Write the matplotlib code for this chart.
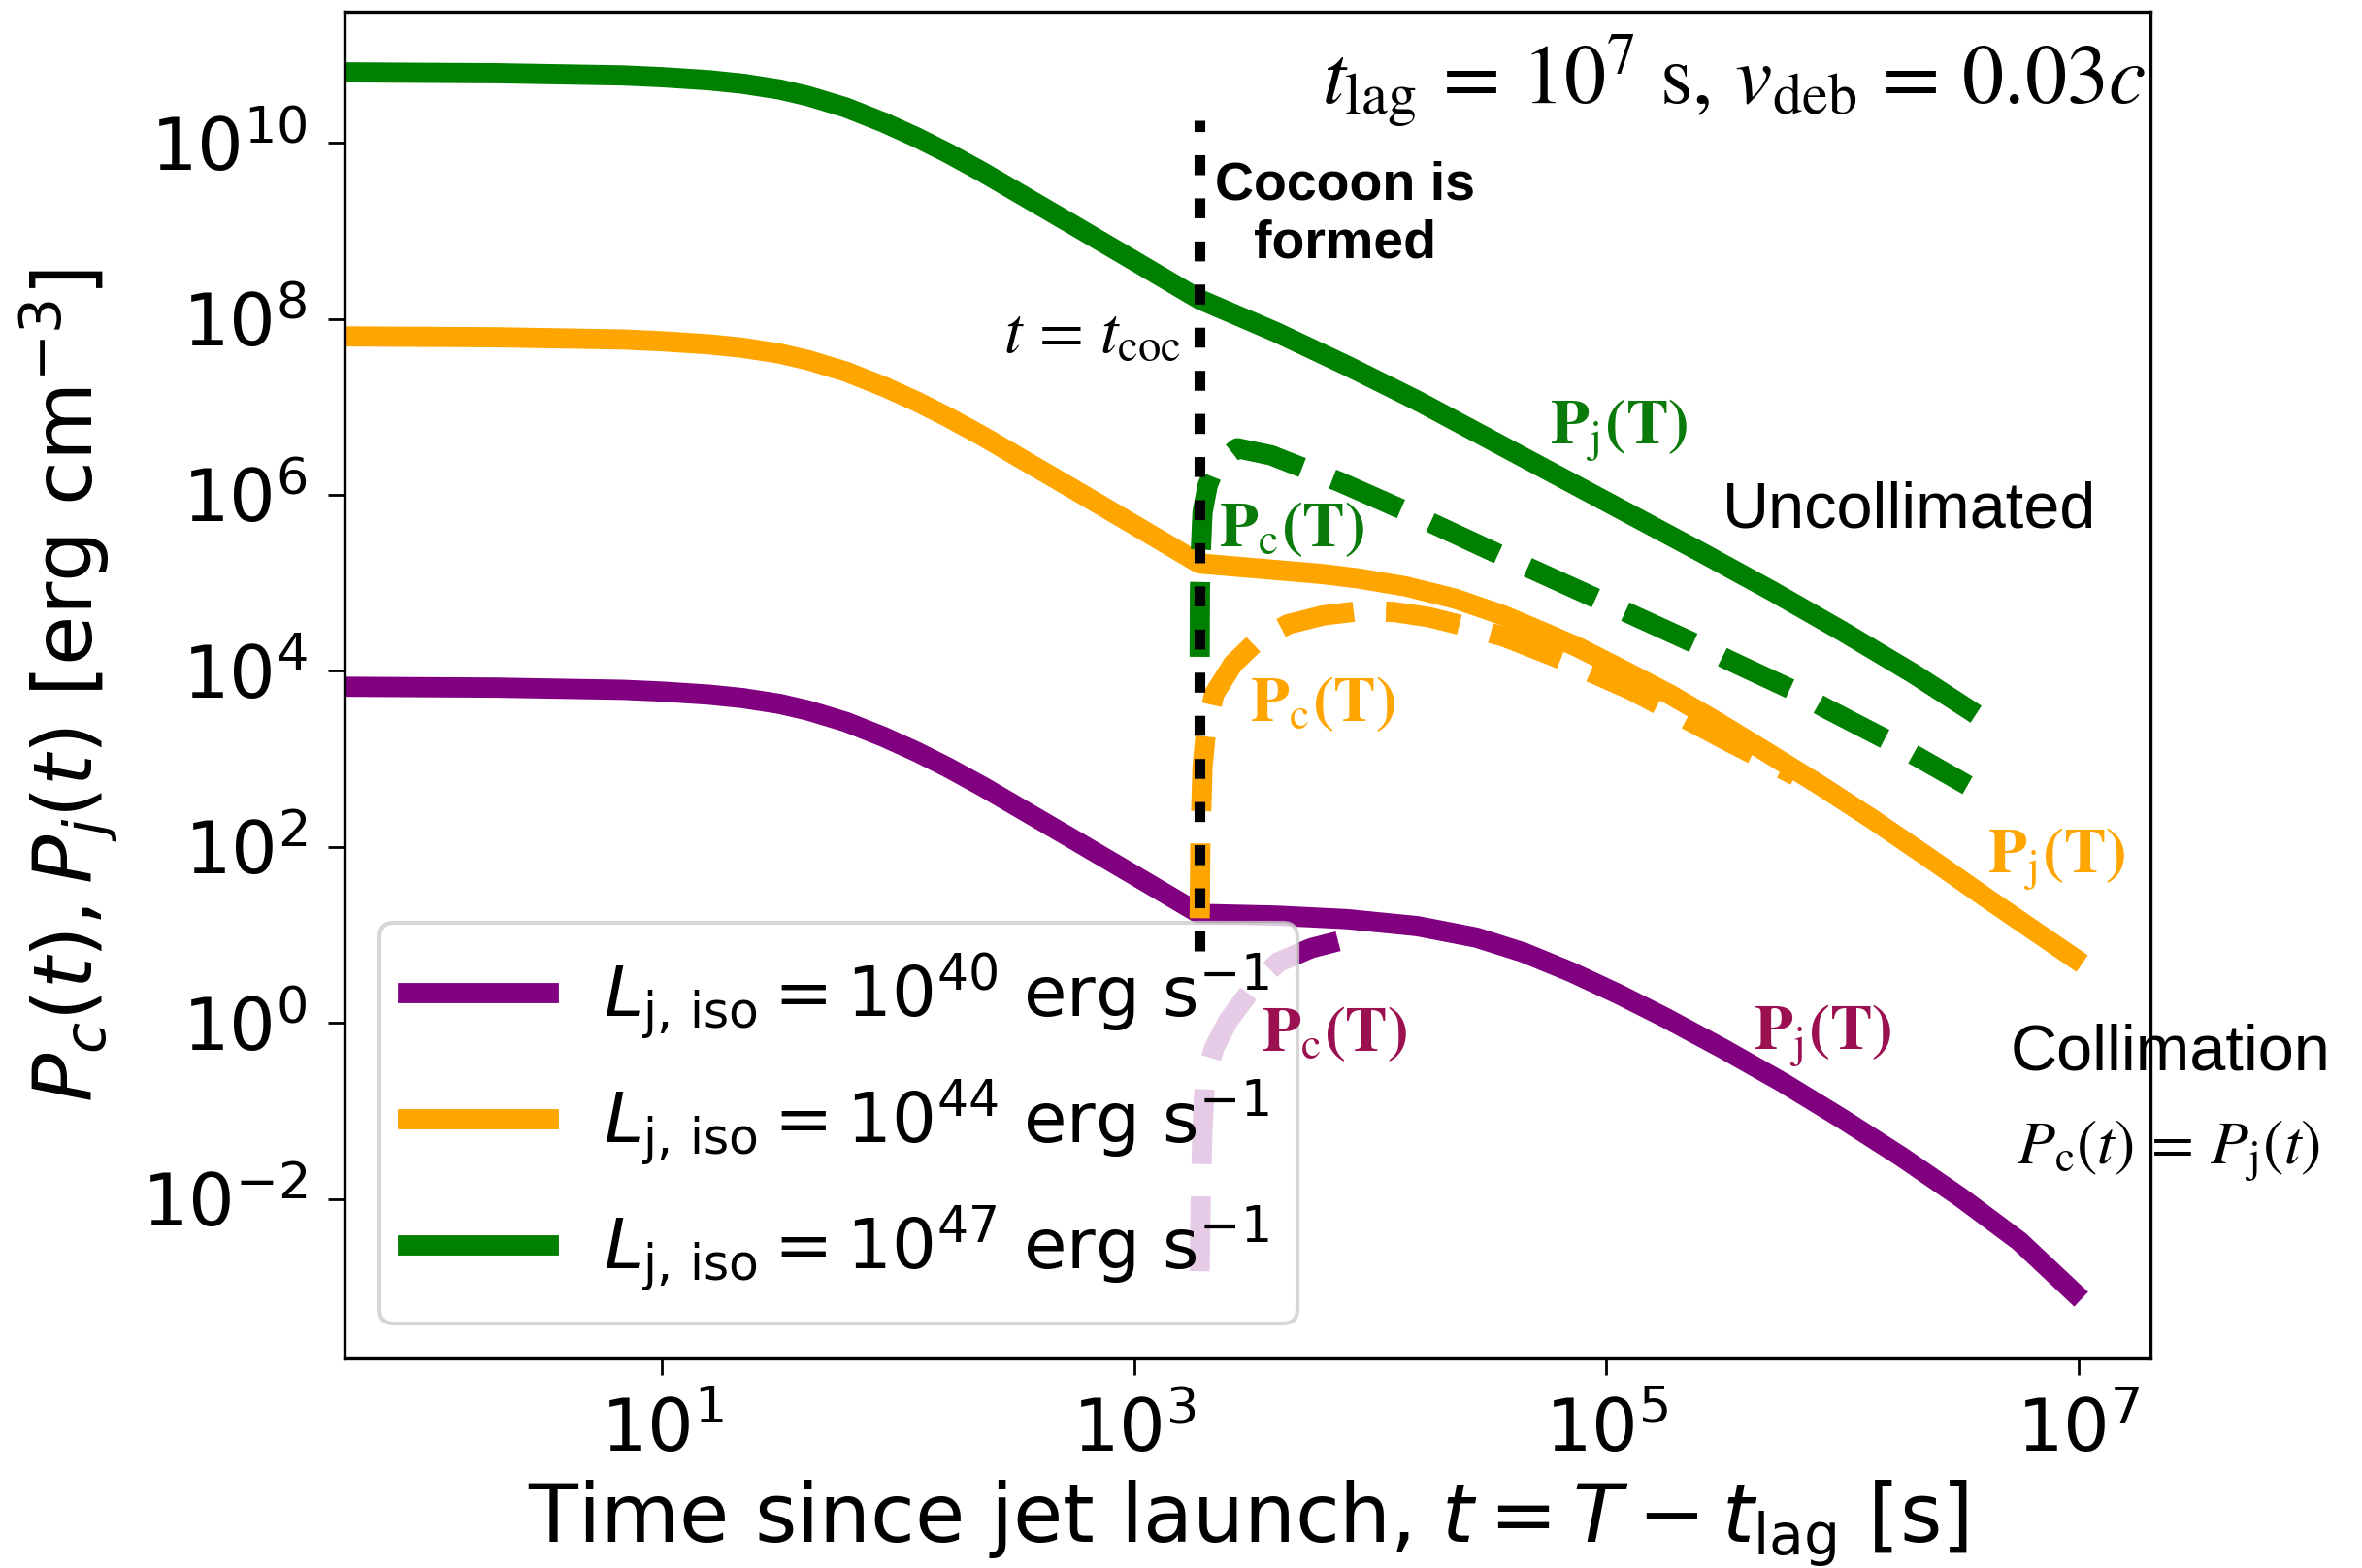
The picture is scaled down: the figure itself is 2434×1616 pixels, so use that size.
import numpy as np
import matplotlib
matplotlib.use("Agg")
import matplotlib.pyplot as plt
from matplotlib.ticker import FixedLocator, NullLocator

# ---------------------------------------------------------------------------
# Data (log10 of time since launch [s] and log10 of pressure [erg cm^-3])
# ---------------------------------------------------------------------------
log_t_coc = 3.278

# jet pressure P_j(T) for the three isotropic luminosities
log_t_j40 = [-0.343, 0.3, 0.836, 1.0, 1.2, 1.345, 1.5, 1.62, 1.78, 1.94, 2.08, 2.21,
             2.36, 2.51, 2.74, 3.0, 3.278,
             3.6, 3.9, 4.2, 4.45, 4.65, 4.85, 5.05, 5.25, 5.5, 5.75, 6.0,
             6.25, 6.5, 6.75, 6.98]
log_p_j40 = [3.82, 3.81, 3.785, 3.765, 3.73, 3.69, 3.625, 3.55, 3.42, 3.25, 3.08, 2.905,
             2.685, 2.45, 2.09, 1.68, 1.24,
             1.22, 1.18, 1.10, 0.97, 0.80, 0.58, 0.33, 0.06, -0.30, -0.68, -1.09,
             -1.52, -1.98, -2.48, -3.06]

log_t_j44 = [-0.343, 0.3, 0.836, 1.0, 1.2, 1.345, 1.5, 1.62, 1.78, 1.94, 2.08, 2.21,
             2.36, 2.51, 2.74, 3.0, 3.278,
             3.54, 3.8, 3.95, 4.15, 4.36, 4.565, 4.75, 4.879, 5.07, 5.271, 5.47,
             5.665, 5.9, 6.13, 6.37, 6.61, 6.98]
log_p_j44 = [7.80, 7.79, 7.765, 7.745, 7.71, 7.67, 7.605, 7.53, 7.40, 7.23, 7.06, 6.885,
             6.665, 6.43, 6.07, 5.66, 5.22,
             5.16, 5.10, 5.05, 4.96, 4.82, 4.63, 4.42, 4.27, 4.01, 3.73, 3.42,
             3.10, 2.71, 2.31, 1.87, 1.42, 0.74]

log_t_j47 = [-0.343, 0.3, 0.836, 1.0, 1.2, 1.345, 1.5, 1.62, 1.78, 1.94, 2.08, 2.21,
             2.36, 2.51, 2.74, 3.0, 3.278,
             3.6, 3.9, 4.2, 4.5, 4.8, 5.1, 5.4, 5.7, 6.0, 6.3, 6.53]
log_p_j47 = [10.80, 10.79, 10.765, 10.745, 10.71, 10.67, 10.605, 10.53, 10.40, 10.23, 10.06, 9.885,
             9.665, 9.43, 9.07, 8.66, 8.22,
             7.85, 7.47, 7.07, 6.64, 6.21, 5.78, 5.35, 4.91, 4.45, 3.97, 3.57]

# cocoon pressure P_c(T), defined after the cocoon forms
log_t_c40 = [3.278, 3.283, 3.29, 3.30, 3.34, 3.40, 3.505, 3.61, 3.75, 3.895]
log_p_c40 = [-2.82, -1.90, -1.20, -0.64, -0.28, 0.03, 0.41, 0.69, 0.85, 0.95]

log_t_c44 = [3.278, 3.281, 3.29, 3.305, 3.34, 3.42, 3.524, 3.653, 3.80, 3.955,
             4.10, 4.25, 4.40, 4.565, 4.82, 5.107, 5.508, 5.80]
log_p_c44 = [1.19, 2.07, 2.91, 3.32, 3.74, 4.08, 4.35, 4.53, 4.63, 4.68,
             4.67, 4.61, 4.51, 4.39, 4.12, 3.78, 3.21, 2.81]

log_t_c47 = [3.278, 3.279, 3.283, 3.29, 3.312, 3.345, 3.438, 3.58, 3.732, 3.868,
             4.147, 4.284, 4.565, 4.694, 4.977, 5.107, 5.393, 5.52, 5.80, 5.926,
             6.20, 6.327, 6.53]
log_p_c47 = [4.16, 4.90, 5.37, 5.80, 6.11, 6.33, 6.53, 6.45, 6.29, 6.15,
             5.82, 5.65, 5.30, 5.145, 4.80, 4.64, 4.29, 4.12, 3.77, 3.58,
             3.20, 3.01, 2.70]

# extent of the vertical marker at t = t_coc
log_p_marker = [0.82, 10.26]

lum_exponents = [40, 44, 47]
line_colors = ["purple", "orange", "green"]
label_colors = ["#9a1050", "#ffa500", "#0a7a0a"]

x_ticks = [1e1, 1e3, 1e5, 1e7]
y_ticks = [1e-2, 1e0, 1e2, 1e4, 1e6, 1e8, 1e10]


def p10(a):
    return 10.0 ** np.asarray(a, dtype=float)


# ---------------------------------------------------------------------------
fig = plt.figure(figsize=(12.17, 8.08), dpi=200)
ax = fig.add_axes([0.1459, 0.1337, 0.7645, 0.8589])
ax.set_xscale("log")
ax.set_yscale("log")

LW = 7.5
jets = [(log_t_j40, log_p_j40), (log_t_j44, log_p_j44), (log_t_j47, log_p_j47)]
cocoons = [(log_t_c40, log_p_c40), (log_t_c44, log_p_c44), (log_t_c47, log_p_c47)]

for (tj, pj), (tc, pc), expo, col in zip(jets, cocoons, lum_exponents, line_colors):
    ax.plot(p10(tj), p10(pj), color=col, lw=LW,
            label=r"$L_{\rm j,\,iso} = 10^{%d}$ erg s$^{-1}$" % expo)
    ax.plot(p10(tc), p10(pc), color=col, lw=LW, ls="--")

# vertical marker at cocoon formation, drawn above the legend box
ax.plot([10 ** log_t_coc] * 2, p10(log_p_marker), color="black", lw=4,
        ls=(0, (1.85, 2.15)), zorder=6)

ax.set_xlim(10 ** -0.343, 10 ** 7.304)
ax.set_ylim(10 ** -3.81, 10 ** 11.49)
ax.xaxis.set_major_locator(FixedLocator(x_ticks))
ax.yaxis.set_major_locator(FixedLocator(y_ticks))
ax.xaxis.set_minor_locator(NullLocator())
ax.yaxis.set_minor_locator(NullLocator())
ax.tick_params(which="major", labelsize=27, length=6, width=1.0, pad=8)
for s in ax.spines.values():
    s.set_linewidth(1.2)

ax.set_xlabel(r"Time since jet launch, $t = T - t_{\rm lag}$ [s]", fontsize=30,
              labelpad=4)
ax.set_ylabel(r"$P_c(t), P_j(t)$ [erg cm$^{-3}$]", fontsize=30, labelpad=8)

leg = ax.legend(loc="lower left", fontsize=26)
leg.get_frame().set_linewidth(1.5)

# ---------------------------------------------------------------------------
# annotations
serif = dict(math_fontfamily="stix")
ax.text(0.9973, 0.9316, r"$t_{\rm lag}\,=\,10^{7}\ {\rm s},\,v_{\rm deb}\,=\,0.03c$",
        transform=ax.transAxes, ha="right", va="baseline", fontsize=31, **serif)

ax.text(10 ** 3.895, 10 ** 8.70, "Cocoon is\nformed", ha="center", va="baseline",
        multialignment="center", fontsize=20, fontweight="bold",
        family="Liberation Sans")
ax.text(10 ** 3.201, 10 ** 7.62, r"$t\,=\,t_{\rm coc}$", ha="right", va="baseline",
        fontsize=24, **serif)

pj_label = r"$\mathbf{P}_{\rm j}\mathbf{(T)}$"
pc_label = r"$\mathbf{P}_{\rm c}\mathbf{(T)}$"
ax.text(10 ** 4.762, 10 ** 6.584, pj_label, color=label_colors[2], fontsize=23.5, **serif)
ax.text(10 ** 3.361, 10 ** 5.416, pc_label, color=label_colors[2], fontsize=23.5, **serif)
ax.text(10 ** 3.489, 10 ** 3.436, pc_label, color=label_colors[1], fontsize=23.5, **serif)
ax.text(10 ** 6.614, 10 ** 1.713, pj_label, color=label_colors[1], fontsize=23.5, **serif)
ax.text(10 ** 5.623, 10 ** -0.30, pj_label, color=label_colors[0], fontsize=23.5, **serif)
ax.text(10 ** 3.538, 10 ** -0.314, pc_label, color=label_colors[0], fontsize=23.5,
        zorder=7, **serif)

ax.text(10 ** 5.492, 10 ** 5.636, "Uncollimated", fontsize=24, family="Liberation Sans")
ax.text(10 ** 6.709, 10 ** -0.535, "Collimation", fontsize=24, family="Liberation Sans",
        clip_on=False)
ax.text(10 ** 6.737, 10 ** -1.603, r"$P_{\rm c}(t)\,=\,P_{\rm j}(t)$", fontsize=23,
        clip_on=False, **serif)

fig.savefig("out.png", dpi=200)
